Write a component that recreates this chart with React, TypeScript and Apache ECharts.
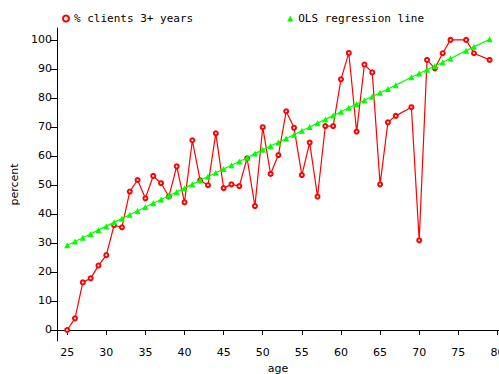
import React, { useEffect, useRef } from "react";
import * as echarts from "echarts";

const ages = [25, 26, 27, 28, 29, 30, 31, 32, 33, 34, 35, 36, 37, 38, 39, 40, 41, 42, 43, 44, 45, 46, 47, 48, 49, 50, 51, 52, 53, 54, 55, 56, 57, 58, 59, 60, 61, 62, 63, 64, 65, 66, 67, 69, 70, 71, 72, 73, 74, 76, 77, 79];

const pctClients = [0, 4, 16.4, 17.8, 22.2, 25.8, 36.1, 35.4, 47.7, 51.7, 45.4, 53.1, 50.6, 46.0, 56.4, 44.0, 65.4, 51.6, 49.9, 67.8, 48.9, 50.2, 49.6, 59.2, 42.7, 69.9, 53.8, 60.3, 75.4, 69.7, 53.4, 64.6, 46.0, 70.3, 70.3, 86.4, 95.5, 68.4, 91.5, 88.8, 50.2, 71.6, 73.8, 76.8, 30.9, 93.1, 90.2, 95.4, 100, 100, 95.4, 93.1];

const olsLine = [29.2, 30.5, 31.8, 33.1, 34.5, 35.8, 37.1, 38.4, 39.7, 41.0, 42.4, 43.7, 45.0, 46.3, 47.6, 48.9, 50.2, 51.6, 52.9, 54.2, 55.5, 56.8, 58.1, 59.4, 60.8, 62.1, 63.4, 64.7, 66.0, 67.3, 68.7, 70.0, 71.3, 72.6, 73.9, 75.2, 76.6, 77.9, 79.2, 80.5, 81.8, 83.1, 84.4, 87.1, 88.4, 89.7, 91.0, 92.3, 93.6, 96.3, 97.6, 100.2];

const xTicks = [25, 30, 35, 40, 45, 50, 55, 60, 65, 70, 75, 80];
const yTicks = [0, 10, 20, 30, 40, 50, 60, 70, 80, 90, 100];

const seriesNames = ["% clients 3+ years", "OLS regression line"];

export default function App() {
  const ref = useRef<HTMLDivElement>(null);
  useEffect(() => {
    if (!ref.current) return;
    const chart = echarts.init(ref.current, undefined, { renderer: "svg" });
    const tickFont = { fontFamily: "DejaVu Sans", fontSize: 11, color: "#000" };
    chart.setOption({
      animation: false,
      backgroundColor: "#fff",
      grid: { left: 57, top: 28, right: 0, bottom: 33, containLabel: false, outerBoundsMode: "none" },
      legend: {
        left: 57,
        top: 8,
        itemWidth: 6,
        itemHeight: 6,
        itemGap: 94,
        textStyle: { fontFamily: "DejaVu Sans Mono", fontSize: 11, color: "#000" },
        data: [
          { name: seriesNames[0], icon: "emptyCircle", itemStyle: { color: "#ff0000", borderColor: "#ff0000", borderWidth: 1 } },
          { name: seriesNames[1], icon: "triangle", itemStyle: { color: "#00ff00" } },
        ],
      },
      xAxis: {
        type: "value",
        min: 23.7,
        max: 80.2,
        name: "age",
        nameLocation: "middle",
        nameGap: 21,
        nameTextStyle: tickFont,
        splitLine: { show: false },
        axisLine: { lineStyle: { color: "#000", width: 1 } },
        axisTick: { show: true, length: 5, customValues: xTicks, lineStyle: { color: "#000" } },
        axisLabel: { ...tickFont, margin: 6, customValues: xTicks, showMinLabel: true, showMaxLabel: true },
      },
      yAxis: {
        type: "value",
        min: -3.8,
        max: 104.1,
        name: "percent",
        nameLocation: "middle",
        nameRotate: 90,
        nameGap: 27,
        nameTextStyle: tickFont,
        splitLine: { show: false },
        axisLine: { show: true, lineStyle: { color: "#000", width: 1 } },
        axisTick: { show: true, length: 7, customValues: yTicks, lineStyle: { color: "#000" } },
        axisLabel: { ...tickFont, margin: 5, customValues: yTicks },
      },
      series: [
        {
          name: seriesNames[0],
          type: "line",
          data: ages.map((a, i) => [a, pctClients[i]]),
          symbol: "emptyCircle",
          symbolSize: 4,
          showAllSymbol: true,
          lineStyle: { color: "#ff0000", width: 1.2 },
          itemStyle: { color: "#ff0000", borderColor: "#ff0000", borderWidth: 2 },
          z: 2,
        },
        {
          name: seriesNames[1],
          type: "line",
          data: ages.map((a, i) => [a, olsLine[i]]),
          symbol: "triangle",
          symbolSize: 6,
          showAllSymbol: true,
          lineStyle: { color: "#00ff00", width: 1.2 },
          itemStyle: { color: "#00ff00" },
          z: 3,
        },
      ],
    });
    return () => chart.dispose();
  }, []);
  return (
    <div
      ref={ref}
      style={{ position: "fixed", left: 0, top: 0, width: 499, height: 374, background: "#fff" }}
    />
  );
}
